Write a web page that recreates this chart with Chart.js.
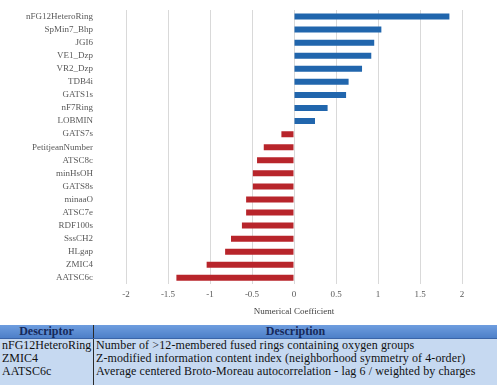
<!DOCTYPE html>
<html>
<head>
<meta charset="utf-8">
<script src="https://cdn.jsdelivr.net/npm/chart.js@4"></script>
<style>
  html, body { margin: 0; padding: 0; background: #fff; }
  #wrap { position: relative; width: 497px; height: 322px; }
  table {
    width: 497px; border-collapse: collapse; margin-top: 3px;
    font-family: "Liberation Serif", serif; font-size: 12px;
  }
  th { background: linear-gradient(#6e9ddf, #4d7fc8); color: #16295a; font-weight: bold; height: 13px; line-height: 13px; padding: 0; border-bottom: 1px solid #3a64a8; }
  td { background: #c6d9f1; color: #111; height: 13px; line-height: 13px; padding: 0 0 0 2px; white-space: nowrap; letter-spacing: 0.1px; }
  td:first-child, th:first-child { width: 91px; border-right: 1px solid #2a2a2a; letter-spacing: 0; }
  tr:last-child td { height: 20px; vertical-align: top; }
</style>
</head>
<body>
<div id="wrap"><canvas id="grafica"></canvas></div>
<table>
  <tr><th>Descriptor</th><th>Description</th></tr>
  <tr><td>nFG12HeteroRing</td><td>Number of &gt;12-membered fused rings containing oxygen groups</td></tr>
  <tr><td>ZMIC4</td><td>Z-modified information content index (neighborhood symmetry of 4-order)</td></tr>
  <tr><td>AATSC6c</td><td>Average centered Broto-Moreau autocorrelation - lag 6 / weighted by charges</td></tr>
</table>
<script>
// Descriptores y coeficientes
const descriptores = ['nFG12HeteroRing', 'SpMin7_Bhp', 'JGI6', 'VE1_Dzp', 'VR2_Dzp', 'TDB4i', 'GATS1s',
  'nF7Ring', 'LOBMIN', 'GATS7s', 'PetitjeanNumber', 'ATSC8c', 'minHsOH', 'GATS8s', 'minaaO',
  'ATSC7e', 'RDF100s', 'SssCH2', 'HLgap', 'ZMIC4', 'AATSC6c'];
const coeficientes = [1.85, 1.04, 0.955, 0.92, 0.81, 0.65, 0.62, 0.40, 0.25, -0.15, -0.36, -0.44,
  -0.49, -0.49, -0.57, -0.57, -0.62, -0.75, -0.82, -1.04, -1.40];
const ticksX = [-2, -1.5, -1, -0.5, 0, 0.5, 1, 1.5, 2];

const azul = '#2166ad';
const rojo = '#b8252b';
const colores = coeficientes.map(v => v >= 0 ? azul : rojo);

new Chart(document.getElementById('grafica'), {
    type: 'bar',
    data: {
        labels: descriptores,
        datasets: [{
            data: coeficientes,
            backgroundColor: colores,
            borderWidth: 0,
            barPercentage: 0.46,
            categoryPercentage: 1
        }]
    },
    options: {
        indexAxis: 'y',
        responsive: true,
        maintainAspectRatio: false,
        animation: false,
        layout: { padding: { top: 10, right: 35, bottom: 5, left: 0 } },
        plugins: { legend: { display: false }, tooltip: { enabled: false } },
        scales: {
            x: {
                min: -2, max: 2,
                afterBuildTicks: scale => { scale.ticks = ticksX.map(v => ({ value: v })); },
                grid: { color: '#d9d9d9', drawTicks: false },
                border: { display: false },
                ticks: {
                    padding: 5,
                    color: '#595959',
                    font: { family: 'Liberation Serif', size: 9 },
                    callback: v => String(v)
                },
                title: {
                    display: true,
                    text: 'Numerical Coefficient',
                    color: '#404040',
                    font: { family: 'Liberation Serif', size: 9 },
                    padding: { top: 1, bottom: 0 }
                }
            },
            y: {
                weight: 1,
                grid: { display: false, drawTicks: false },
                border: { display: false },
                afterFit: scale => { scale.width = 96; },
                ticks: {
                    autoSkip: false,
                    padding: 3,
                    color: '#595959',
                    font: { family: 'Liberation Serif', size: 9 }
                }
            },
            // eje vacío para dejar el hueco entre etiquetas y gráfica
            hueco: {
                type: 'category',
                position: 'left',
                weight: 0,
                grid: { display: false, drawTicks: false },
                border: { display: false },
                ticks: { display: false },
                afterFit: scale => { scale.width = 30; }
            }
        }
    }
});
</script>
</body>
</html>
